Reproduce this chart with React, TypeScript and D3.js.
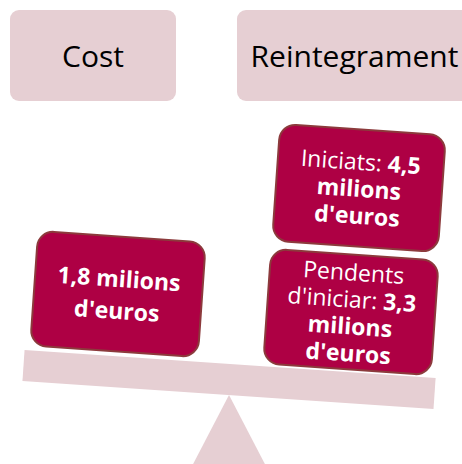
import React from "react";
import * as d3 from "d3";

const headers = ["Cost", "Reintegrament"];
const costLines = [[{ t: "1,8 milions", b: true }], [{ t: "d'euros", b: true }]];
const iniciatsLines = [
  [{ t: "Iniciats: ", b: false }, { t: "4,5", b: true }],
  [{ t: "milions", b: true }],
  [{ t: "d'euros", b: true }],
];
const pendentsLines = [
  [{ t: "Pendents", b: false }],
  [{ t: "d'iniciar: ", b: false }, { t: "3,3", b: true }],
  [{ t: "milions", b: true }],
  [{ t: "d'euros", b: true }],
];

const W = 462, H = 464;
const FONT = "'Open Sans', 'Noto Sans', sans-serif";
const LIGHT = "#e6cfd3";
const DARK = "#ae0044";
const EDGE = "#8c3a3c";

type Seg = { t: string; b: boolean };

function Box({ cx, cy, w, h, angle, lines, fs, lh }: { cx: number; cy: number; w: number; h: number; angle: number; lines: Seg[][]; fs: number; lh: number }) {
  const y0 = -((lines.length - 1) * lh) / 2;
  return (
    <g transform={`translate(${cx},${cy}) rotate(${angle})`}>
      <rect x={-w / 2} y={-h / 2} width={w} height={h} rx={16} ry={16} fill={DARK} stroke={EDGE} strokeWidth={2} />
      {lines.map((ln, i) => (
        <text key={i} x={0} y={y0 + i * lh} textAnchor="middle" dominantBaseline="central" fill="#fff" fontSize={fs} fontFamily={FONT}>
          {ln.map((s, j) => (
            <tspan key={j} fontWeight={s.b ? 700 : 400}>{s.t}</tspan>
          ))}
        </text>
      ))}
    </g>
  );
}

export default function App() {
  const x = d3.scaleLinear().domain([0, 1]).range([10, 237]);
  const angle = 3.9;
  const tri = d3.line()([[229, 395], [190, 470], [268, 470]]) + "Z";
  return (
    <svg width={W} height={H} style={{ position: "absolute", left: 0, top: 0 }}>
      {headers.map((h, i) => {
        const x0 = x(i);
        const w = i === 0 ? 166 : 235;
        return (
          <g key={h}>
            <rect x={x0} y={10} width={w} height={91} rx={9} fill={LIGHT} />
            <text x={x0 + w / 2} y={55} textAnchor="middle" dominantBaseline="central" fontSize={30} fontFamily={FONT} fill="#000">{h}</text>
          </g>
        );
      })}
      <path d={tri} fill={LIGHT} />
      <g transform={`translate(229,380) rotate(${angle})`}>
        <rect x={-206} y={-16} width={412} height={31} fill={LIGHT} />
      </g>
      <Box cx={118} cy={294} w={168} h={115} angle={4} lines={costLines} fs={23} lh={32} />
      <Box cx={359} cy={188} w={166} h={117} angle={4} lines={iniciatsLines} fs={23} lh={27} />
      <Box cx={351} cy={312} w={168} h={115} angle={4} lines={pendentsLines} fs={23} lh={27} />
    </svg>
  );
}
